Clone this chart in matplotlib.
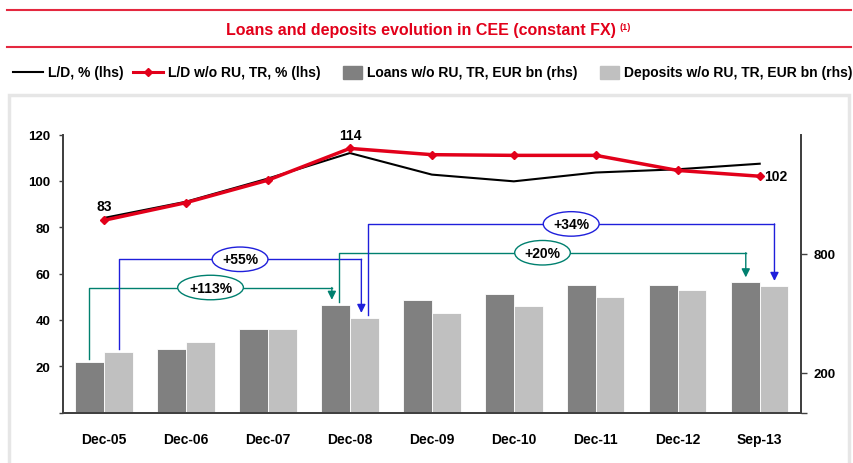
import numpy as np
import matplotlib
matplotlib.use('Agg')
import matplotlib.pyplot as plt
from matplotlib.lines import Line2D
from matplotlib.patches import Rectangle

plt.rcParams['font.family'] = ['Liberation Sans', 'DejaVu Sans']
plt.rcParams['font.weight'] = 'bold'

# data
periods = ['Dec-05', 'Dec-06', 'Dec-07', 'Dec-08', 'Dec-09', 'Dec-10', 'Dec-11', 'Dec-12', 'Sep-13']
ld_total = [84, 91, 101, 112, 102.7, 99.8, 103.6, 105, 107.4]       # L/D, % (lhs)
ld_wo = [83, 90.6, 100.3, 114, 111.3, 111, 111, 104.5, 102]          # L/D w/o RU, TR, % (lhs)
loans = [254, 323, 423, 543, 565, 595, 643, 643, 656]                # EUR bn (rhs)
deposits = [306, 358, 423, 477, 504, 538, 583, 617, 638]             # EUR bn (rhs)
growth_labels = ['+113%', '+55%', '+20%', '+34%']
label_points = [0, 3, 8]   # points of the red line that carry a value

red = '#E2001A'
teal = '#00806F'
blue = '#1F1FDB'
dark = '#808080'
light = '#C0C0C0'
axcol = '#404040'

fig = plt.figure(figsize=(8.54, 4.64), dpi=100)
W, H = 854.0, 464.0

# header: red rules, title, legend, grey panel
for yy in (11, 48):
    fig.add_artist(Line2D([7 / W, 851 / W], [1 - yy / H] * 2, color='#E4283F', lw=1.5))
fig.text(420.5 / W, 1 - 30 / H, 'Loans and deposits evolution in CEE (constant FX)',
         ha='center', va='center', fontsize=11.5, color=red, fontweight='bold')
fig.text(620 / W, 1 - 27 / H, '(1)', ha='left', va='center', fontsize=6.5, color=red, fontweight='bold')

ly = 1 - 72.7 / H
fig.add_artist(Line2D([12.7 / W, 42.7 / W], [ly, ly], color='black', lw=1.5))
fig.text(47.7 / W, ly, 'L/D, % (lhs)', va='center', fontsize=10)
fig.add_artist(Line2D([133 / W, 163 / W], [ly, ly], color=red, lw=2.2))
fig.add_artist(Line2D([148 / W], [ly], color=red, marker='D', markersize=4, lw=0))
fig.text(168 / W, ly, 'L/D w/o RU, TR, % (lhs)', va='center', fontsize=10)
fig.add_artist(Rectangle((343 / W, 1 - 80 / H), 19 / W, 13 / H, color=dark))
fig.text(367 / W, ly, 'Loans w/o RU, TR, EUR bn (rhs)', va='center', fontsize=10)
fig.add_artist(Rectangle((600 / W, 1 - 80 / H), 19 / W, 13 / H, color=light))
fig.text(624 / W, ly, 'Deposits w/o RU, TR, EUR bn (rhs)', va='center', fontsize=10)

fig.add_artist(Rectangle((8.5 / W, -0.05), 841 / W, 1 - 96 / H + 0.05, fill=False,
                         ec='#E6E6E6', lw=2.5))

# axes
ax = fig.add_axes([63 / W, 1 - 413.7 / H, (800.7 - 63) / W, (413.7 - 135.5) / H])
ax2 = ax.twinx()
ax.set_zorder(ax2.get_zorder() + 1)
ax.patch.set_visible(False)

x = np.arange(len(periods))
w = 0.35
ax2.bar(x - w / 2, loans, w, color=dark, edgecolor='white', linewidth=0.6)
ax2.bar(x + w / 2, deposits, w, color=light, edgecolor='white', linewidth=0.6)

ax.plot(x, ld_total, color='black', lw=1.5)
ax.plot(x, ld_wo, color=red, lw=2.5, marker='D', markersize=4.5)

for i in label_points:
    if i == len(periods) - 1:
        ax.annotate(f'{ld_wo[i]:.0f}', (x[i], ld_wo[i]), xytext=(3, 0), textcoords='offset points',
                    ha='left', va='center', fontsize=10, fontweight='bold')
    else:
        ax.annotate(f'{ld_wo[i]:.0f}', (x[i], ld_wo[i]), xytext=(0, 10), textcoords='offset points',
                    ha='center', va='center', fontsize=10, fontweight='bold')

# growth brackets: x start, x end, start bar, end bar, bracket level, label, colour
brackets = [
    (x[0] - 0.18, x[3] - 0.22, loans[0], loans[3], 630, growth_labels[0], teal),
    (x[0] + 0.18, x[3] + 0.14, deposits[0], deposits[3], 772, growth_labels[1], blue),
    (x[3] - 0.13, x[8] - 0.17, loans[3], loans[8], 805, growth_labels[2], teal),
    (x[3] + 0.22, x[8] + 0.18, deposits[3], deposits[8], 950, growth_labels[3], blue),
]
for x0, x1, v0, v1, lvl, txt, c in brackets:
    ax2.plot([x0, x0, x1], [v0 + 16, lvl, lvl], color=c, lw=1)
    ax2.annotate('', xy=(x1, v1 + 25), xytext=(x1, lvl),
                 arrowprops=dict(arrowstyle='-|>,head_width=0.25,head_length=0.5', color=c, lw=1,
                                 shrinkA=0, shrinkB=0))
    ax2.text((x0 + x1) / 2, lvl, txt, ha='center', va='center', fontsize=10, fontweight='bold',
             bbox=dict(boxstyle='ellipse,pad=0.12', fc='white', ec=c, lw=1))

ax.set_xlim(-0.5, len(periods) - 0.5)
ax.set_ylim(0, 120)
ax2.set_ylim(0, 1400)
ax.set_yticks([0, 20, 40, 60, 80, 100, 120])
ax.set_yticklabels(['', '20', '40', '60', '80', '100', '120'])
ax2.set_yticks([0, 200, 800])
ax2.set_yticklabels(['', '200', '800'])
ax.set_xticks(x)
ax.set_xticklabels(periods)

ax.tick_params(axis='x', length=0, pad=14, labelsize=10)
ax.tick_params(axis='y', length=3, width=1, color=axcol, pad=6, labelsize=9.5)
ax2.tick_params(axis='y', length=4, width=1, color=axcol, pad=5, labelsize=9.5)
for a in (ax, ax2):
    a.spines['top'].set_visible(False)
    for s in ('left', 'right', 'bottom'):
        a.spines[s].set_color(axcol)
        a.spines[s].set_linewidth(1.3)
for lab in ax.get_xticklabels() + ax.get_yticklabels() + ax2.get_yticklabels():
    lab.set_fontweight('bold')

fig.savefig('out.png', dpi=100)
